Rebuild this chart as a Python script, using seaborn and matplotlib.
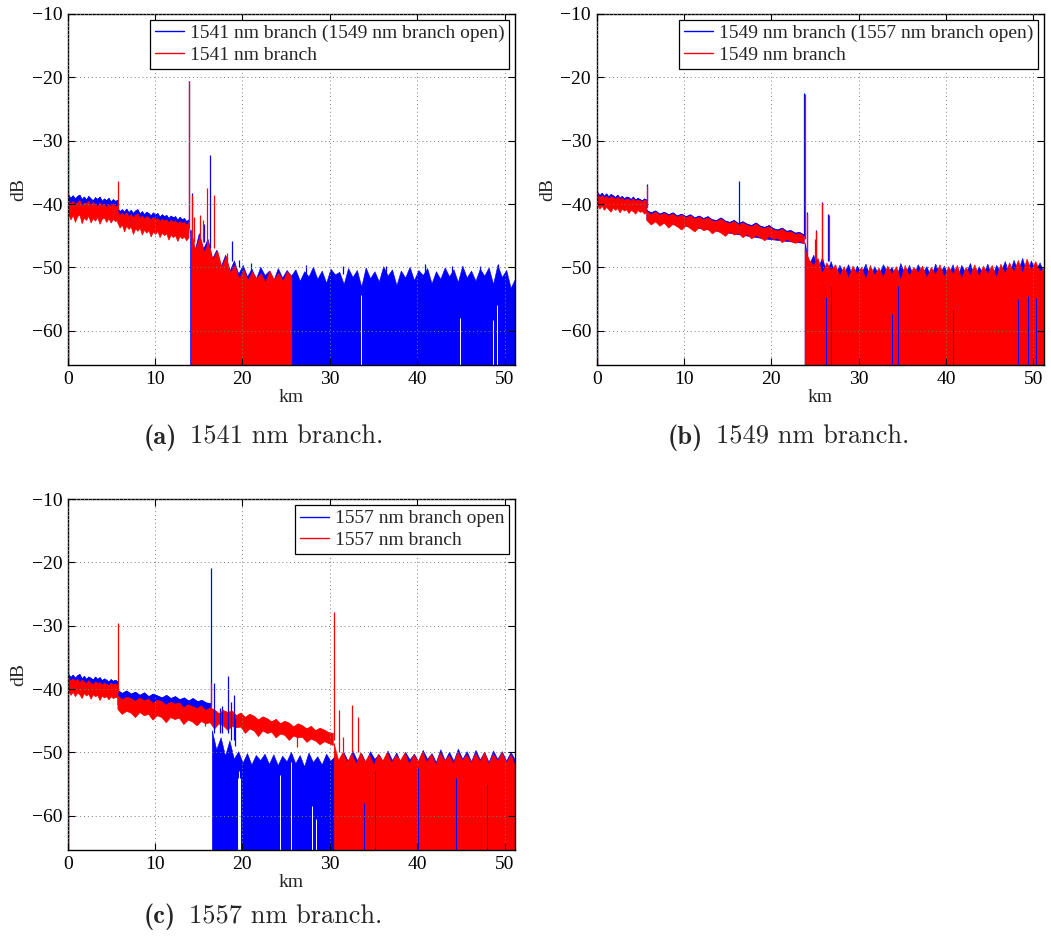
import numpy as np
import matplotlib
matplotlib.use("Agg")
import matplotlib.pyplot as plt
from matplotlib.lines import Line2D
import seaborn as sns

BLUE = "#0000ff"
RED = "#ff0000"
FLOOR = -70.0  # noise-floor bars run below the bottom of the axes

# ---------------- (a) 1541 nm branch ----------------
A_LABELS = ["1541 nm branch (1549 nm branch open)", "1541 nm branch"]

A_BLUE_SEG_KM = [(0.12, 5.75), (5.75, 13.88)]
A_BLUE_TOP = [
    [-38.6, -39.1, -38.7, -39.2, -38.8, -38.6, -39.3, -38.9, -39.4, -38.8, -39.2, -39.5,
     -39.0, -39.3, -38.9, -39.6, -39.2, -39.5, -39.1, -39.7, -39.3, -39.6, -39.4],
    [-40.7, -41.2, -40.9, -41.3, -40.8, -41.4, -41.0, -41.5, -41.1, -40.9, -41.6, -41.2,
     -41.7, -41.3, -41.5, -41.9, -41.4, -41.8, -41.5, -42.1, -41.7, -42.0, -41.8, -42.3,
     -41.9, -42.2, -42.0, -42.6, -42.1, -42.5, -42.3, -42.8, -42.5],
]
A_BLUE_BOT = [
    [-41.0, -41.3, -41.5, -41.8],
    [-43.0, -43.4, -43.8, -44.2, -44.5],
]
A_BLUE_FLOOR_KM = (14.0, 51.2)
A_BLUE_FLOOR_TOP = [
    -44.0, -47.5, -44.6, -47.0, -45.5, -48.6, -47.2, -49.8, -48.0, -50.5, -48.9, -51.0,
    -49.6, -51.4, -50.2, -51.8, -49.9, -51.2, -50.5, -52.0, -50.1, -51.6, -50.4, -51.3,
    -50.3, -52.1, -50.6, -51.4, -49.9, -51.8, -50.5, -52.4, -50.2, -51.1, -50.7, -52.6,
    -50.1, -51.5, -50.4, -53.0, -50.0, -51.7, -50.6, -52.2, -49.8, -51.3, -50.3, -52.8,
    -50.5, -51.6, -49.9, -52.0, -50.4, -51.2, -50.1, -52.5, -50.6, -51.8, -50.0, -51.4,
    -50.3, -52.3, -49.7, -51.6, -50.5, -52.1, -50.2, -51.3, -50.0, -52.6, -49.6, -51.5,
    -50.4, -53.2, -51.8,
]
A_BLUE_SPIKE_KM = [0.0, 13.92, 14.27, 15.65, 16.3, 18.8, 19.6, 21.0,
                   27.3, 31.5, 36.4, 40.9, 44.0, 47.2, 49.3]
A_BLUE_SPIKE_BASE = [-70.0, -43.0, -45.0, -46.0, -47.0, -49.0, -50.0, -50.5,
                     -51.0, -51.0, -51.0, -51.0, -51.0, -51.0, -51.0]
A_BLUE_SPIKE_PEAK = [-50.0, -20.6, -38.3, -43.2, -32.3, -45.9, -48.8, -49.3,
                     -49.6, -49.7, -49.8, -49.5, -49.8, -49.7, -49.4]
A_BLUE_GAP_KM = [33.6, 44.9, 48.7, 49.1]
A_BLUE_GAP_TOP = [-54.4, -58.0, -58.3, -56.0]

A_RED_SEG_KM = [(0.12, 5.75), (5.75, 13.88)]
A_RED_TOP = [
    [-39.5, -40.1, -39.6, -40.2, -39.8, -39.5, -40.3, -39.9, -40.0, -39.6, -40.4, -39.8,
     -40.1, -40.5, -39.9, -40.3, -40.0, -40.6, -40.1, -40.4, -40.0, -40.5, -40.3],
    [-41.3, -41.8, -41.5, -41.9, -41.4, -42.1, -41.7, -42.2, -41.8, -41.6, -42.3, -41.9,
     -42.4, -42.0, -42.2, -42.6, -42.1, -42.5, -42.3, -42.8, -42.4, -42.7, -42.5, -43.0,
     -42.6, -42.9, -42.7, -43.2, -42.8, -43.1, -42.9, -43.3, -43.0],
]
A_RED_BOT = [
    [-41.6, -42.5, -41.8, -42.9, -42.0, -41.7, -43.1, -42.2, -42.6, -41.9, -43.0, -42.3,
     -42.7, -42.1, -43.2, -42.4, -42.2, -42.9, -42.3, -43.0, -42.4, -42.8, -42.5],
    [-43.0, -43.8, -43.3, -44.4, -43.5, -44.0, -43.6, -44.8, -43.9, -44.3, -43.8, -44.9,
     -44.1, -44.6, -44.2, -45.2, -44.4, -44.8, -44.3, -45.3, -44.6, -45.0, -44.7, -45.7,
     -44.9, -45.3, -45.0, -45.9, -45.1, -45.5, -45.2, -45.8, -45.3],
]
A_RED_FLOOR_KM = (14.1, 25.6)
A_RED_FLOOR_TOP = [
    -44.0, -47.2, -45.0, -47.5, -46.0, -48.8, -47.3, -49.9, -48.2, -50.8, -49.6, -51.8,
    -50.3, -52.0, -50.6, -51.7, -50.9, -52.3, -50.5, -51.9, -50.8, -52.1, -50.6, -51.4,
]
A_RED_SPIKE_KM = [0.0, 0.06, 5.75, 13.9, 14.25, 14.5, 15.2, 15.5, 16.0, 16.7, 18.2]
A_RED_SPIKE_BASE = [-70.0, -42.0, -41.0, -44.0, -45.0, -46.0, -46.0, -46.0, -47.0, -47.0, -49.0]
A_RED_SPIKE_PEAK = [-27.5, -31.0, -36.4, -20.5, -38.5, -42.0, -41.7, -42.5, -37.5, -38.6, -47.8]

# ---------------- (b) 1549 nm branch ----------------
B_LABELS = ["1549 nm branch (1557 nm branch open)", "1549 nm branch"]

B_BLUE_SEG_KM = [(0.12, 5.75), (5.75, 23.75)]
B_BLUE_TOP = [
    [-38.2, -38.7, -38.3, -38.8, -38.4, -38.9, -38.5, -38.7, -39.0, -38.6, -39.1, -38.8,
     -39.2, -38.9, -39.0, -39.3, -38.9, -39.4, -39.1, -39.3, -39.5, -39.2, -39.4],
    [-41.0, -41.4, -41.1, -41.6, -41.3, -41.7, -41.4, -41.9, -41.6, -42.0, -41.7, -42.2,
     -41.9, -42.3, -42.0, -42.5, -42.6, -42.2, -42.7, -42.9, -42.6, -43.1, -42.8, -43.2,
     -43.4, -43.0, -43.5, -43.7, -43.4, -43.9, -44.1, -43.8, -44.3, -44.2, -44.6, -44.5,
     -44.9],
]
B_BLUE_BOT = [
    [-40.2, -40.5, -40.8, -41.0],
    [-42.5, -43.5, -44.5, -45.5, -46.2],
]
B_BLUE_FLOOR_KM = (23.8, 51.2)
B_BLUE_FLOOR_TOP = [
    -46.0, -49.5, -48.0, -50.2, -48.4, -50.8, -49.0, -51.2, -49.6, -51.0, -49.5, -51.5,
    -49.7, -50.9, -49.4, -51.6, -49.8, -51.2, -49.5, -50.8, -49.9, -51.7, -49.3, -51.1,
    -49.6, -51.4, -49.5, -50.9, -49.8, -51.6, -49.4, -51.0, -49.7, -51.3, -49.5, -51.8,
    -49.6, -50.9, -49.3, -51.5, -49.8, -51.1, -49.4, -51.6, -49.6, -50.8, -49.0, -51.2,
    -48.8, -50.6, -48.5, -50.9, -48.9, -50.5, -49.2, -51.0,
]
B_BLUE_SPIKE_KM = [0.0, 5.75, 16.25, 23.78, 24.05, 25.15, 25.8, 26.5]
B_BLUE_SPIKE_BASE = [-70.0, -40.5, -43.5, -45.0, -48.0, -49.0, -49.0, -49.0]
B_BLUE_SPIKE_PEAK = [-45.5, -36.8, -36.3, -22.5, -41.3, -44.1, -39.7, -41.5]

B_RED_SEG_KM = [(0.12, 5.75), (5.75, 23.75)]
B_RED_TOP = [
    [-38.6, -39.0, -38.7, -39.1, -38.8, -39.2, -38.9, -39.0, -39.3, -38.9, -39.4, -39.1,
     -39.5, -39.2, -39.3, -39.6, -39.2, -39.6, -39.4, -39.5, -39.7, -39.4, -39.6],
    [-41.2, -41.7, -41.3, -41.8, -41.5, -41.9, -41.6, -42.1, -41.8, -42.2, -41.9, -42.4,
     -42.1, -42.5, -42.2, -42.7, -42.8, -42.4, -42.9, -43.1, -42.8, -43.3, -43.0, -43.4,
     -43.6, -43.2, -43.7, -43.9, -43.6, -44.1, -44.3, -44.0, -44.5, -44.4, -44.8, -44.7,
     -45.1],
]
B_RED_BOT = [
    [-40.2, -40.8, -40.3, -41.0, -40.5, -40.9, -41.3, -40.6, -41.0, -40.7, -41.4, -40.8,
     -41.1, -40.9, -41.5, -41.0, -41.2, -41.6, -41.0, -41.3, -41.2, -41.6, -41.3],
    [-42.6, -43.3, -42.8, -43.5, -43.0, -43.8, -43.2, -43.6, -44.1, -43.4, -43.9, -44.4,
     -43.7, -44.2, -44.0, -44.7, -44.2, -44.6, -45.1, -44.4, -44.9, -44.6, -45.3, -44.8,
     -45.5, -45.0, -45.3, -45.8, -45.1, -45.6, -45.4, -46.1, -45.6, -45.9, -46.2, -45.9,
     -46.3],
]
B_RED_FLOOR_KM = (23.8, 51.2)
B_RED_FLOOR_TOP = [
    -47.0, -48.8, -49.6, -48.5, -50.9, -49.2, -50.4, -49.5, -51.3, -49.8, -51.6, -49.7,
    -51.0, -49.9, -51.8, -49.6, -51.2, -50.0, -51.5, -49.7, -51.0, -49.8, -51.9, -49.6,
    -51.3, -49.9, -50.8, -49.7, -51.6, -49.9, -51.1, -49.5, -51.4, -49.8, -51.0, -49.6,
    -51.7, -49.9, -51.2, -49.5, -51.3, -49.7, -51.0, -49.6, -51.5, -49.4, -50.9, -49.2,
    -50.7, -48.8, -50.9, -48.6, -50.4, -49.0, -50.6, -50.0,
]
B_RED_SPIKE_KM = [0.0, 5.75, 23.8, 24.1, 25.0, 25.15, 25.85, 26.55]
B_RED_SPIKE_BASE = [-70.0, -40.5, -45.5, -48.0, -49.0, -49.0, -49.0, -49.0]
B_RED_SPIKE_PEAK = [-30.2, -37.1, -22.6, -41.5, -45.5, -44.3, -39.8, -41.8]
B_RED_GAP_KM = [26.3, 26.8, 33.75, 34.5, 40.8, 48.2, 49.35, 50.3]
B_RED_GAP_TOP = [-54.7, -53.1, -57.3, -53.0, -56.8, -55.0, -54.5, -54.8]

# ---------------- (c) 1557 nm branch ----------------
C_LABELS = ["1557 nm branch open", "1557 nm branch"]

C_BLUE_SEG_KM = [(0.12, 5.75), (5.75, 16.4)]
C_BLUE_TOP = [
    [-37.7, -38.2, -37.8, -38.3, -37.9, -37.7, -38.4, -38.0, -38.5, -38.1, -38.3, -38.6,
     -38.1, -38.5, -38.2, -38.7, -38.4, -38.6, -38.9, -38.5, -38.8, -38.6, -38.9],
    [-40.2, -40.7, -40.3, -40.8, -40.5, -41.0, -40.6, -41.2, -40.8, -41.1, -41.4, -41.0,
     -41.5, -41.2, -41.7, -41.4, -41.9, -41.5, -42.0, -41.8, -42.2, -42.3],
]
C_BLUE_BOT = [
    [-40.0, -40.3, -40.6, -40.8],
    [-42.5, -43.5, -44.5],
]
C_BLUE_FLOOR_KM = (16.5, 51.2)
C_BLUE_FLOOR_TOP = [
    -46.5, -49.5, -47.6, -50.5, -48.1, -51.0, -49.8, -51.6, -50.1, -51.9, -50.4, -51.2,
    -50.2, -51.8, -50.3, -52.0, -50.5, -51.4, -49.9, -51.7, -50.4, -52.2, -50.0, -51.5,
    -50.6, -51.9, -50.2, -51.3, -50.5, -51.6, -50.0, -51.4, -49.7, -51.2, -50.1, -51.6,
    -49.8, -51.0, -50.3, -51.5, -49.7, -51.2, -50.0, -51.7, -49.9, -51.1, -50.2, -51.4,
    -49.6, -51.0, -50.1, -51.5, -49.5, -51.2, -49.9, -51.3, -49.4, -51.0, -49.8, -51.4,
    -49.6, -51.1, -49.9, -51.5, -49.7, -51.0, -49.8, -51.3, -49.9, -51.2,
]
C_BLUE_SPIKE_KM = [0.0, 16.38, 16.7, 17.4, 17.7, 18.4, 18.7, 19.0, 19.2]
C_BLUE_SPIKE_BASE = [-70.0, -42.5, -47.0, -47.0, -47.0, -47.0, -48.0, -48.0, -49.0]
C_BLUE_SPIKE_PEAK = [-30.0, -20.9, -39.0, -43.0, -42.7, -38.0, -42.0, -40.9, -44.5]
C_BLUE_GAP_KM = [19.5, 19.6, 19.7, 24.3, 25.6, 28.0, 28.4]
C_BLUE_GAP_TOP = [-54.0, -53.0, -54.0, -53.5, -51.5, -58.5, -60.5]

C_RED_SEG_KM = [(0.12, 5.75), (5.75, 30.4)]
C_RED_TOP = [
    [-38.3, -38.8, -38.4, -38.9, -38.5, -39.1, -38.6, -38.9, -39.2, -38.7, -39.1, -39.3,
     -38.9, -39.2, -39.0, -39.4, -39.1, -39.3, -39.5, -39.1, -39.4, -39.2, -39.5],
    [-41.1, -41.7, -41.3, -41.5, -42.0, -41.4, -41.9, -41.6, -42.3, -41.8, -42.0, -42.6,
     -42.1, -42.4, -42.2, -43.0, -42.5, -42.8, -43.1, -42.7, -43.4, -43.0, -43.3, -43.9,
     -43.4, -43.7, -43.5, -44.2, -43.8, -44.5, -44.0, -44.3, -44.9, -44.4, -44.7, -45.2,
     -44.8, -45.5, -45.1, -45.4, -46.0, -45.5, -45.8, -46.3, -45.9, -46.6, -46.2, -46.5,
     -46.9, -47.0],
]
C_RED_BOT = [
    [-40.3, -41.0, -40.5, -41.2, -40.6, -40.9, -41.5, -40.7, -41.1, -40.8, -41.6, -40.9,
     -41.2, -41.0, -41.8, -41.1, -41.4, -41.2, -41.7, -41.2, -41.5, -41.3, -41.4],
    [-43.2, -44.0, -43.5, -43.8, -44.5, -43.7, -44.2, -44.0, -44.9, -44.2, -44.5, -45.3,
     -44.5, -44.8, -44.6, -45.6, -44.9, -45.2, -45.8, -45.1, -45.5, -45.3, -46.3, -45.5,
     -45.8, -46.5, -45.9, -46.1, -46.0, -47.0, -46.3, -46.6, -47.5, -46.6, -47.0, -46.8,
     -47.7, -47.1, -47.3, -48.1, -47.4, -47.7, -47.6, -48.4, -47.9, -48.2, -48.8, -48.3,
     -48.6, -48.9],
]
C_RED_FLOOR_KM = (30.45, 51.2)
C_RED_FLOOR_TOP = [
    -48.5, -51.2, -49.9, -51.5, -50.1, -51.8, -50.0, -51.4, -50.3, -51.9, -50.2, -51.3,
    -49.9, -51.6, -50.4, -51.2, -50.0, -51.8, -50.3, -51.4, -49.8, -51.5, -50.2, -51.9,
    -50.0, -51.3, -50.4, -51.7, -49.9, -51.2, -50.3, -51.6, -50.1, -51.4, -49.9, -51.8,
    -50.2, -51.3, -50.0, -51.6, -50.3, -52.0,
]
C_RED_SPIKE_KM = [0.02, 5.75, 15.7, 16.4, 26.3, 30.45, 31.0, 31.5, 32.5, 33.2]
C_RED_SPIKE_BASE = [-70.0, -40.5, -44.0, -44.0, -47.0, -48.0, -50.0, -50.0, -50.0, -50.0]
C_RED_SPIKE_PEAK = [-32.8, -29.6, -45.9, -39.1, -49.1, -27.8, -43.3, -47.5, -42.5, -44.4]
C_RED_GAP_KM = [33.9, 35.2, 40.05, 44.5, 48.0]
C_RED_GAP_TOP = [-58.0, -53.0, -52.5, -54.0, -55.0]


def make_trace(color, seg_km, top, bot, floor_km, floor_top,
               spike_km, spike_base, spike_peak,
               gap_km=(), gap_top=(), gap_color="white"):
    return dict(color=color, seg_km=seg_km, top=top, bot=bot,
                floor_km=floor_km, floor_top=floor_top,
                spike_km=spike_km, spike_base=spike_base, spike_peak=spike_peak,
                gap_km=list(gap_km), gap_top=list(gap_top), gap_color=gap_color)


def draw_trace(ax, tr):
    c = tr["color"]
    # backscatter slope: polygon along the upper edge and back along the lower edge
    for (k0, k1), top, bot in zip(tr["seg_km"], tr["top"], tr["bot"]):
        kt = np.linspace(k0, k1, len(top))
        kb = np.linspace(k0, k1, len(bot))
        ax.fill(np.r_[kt, kb[::-1]], np.r_[top, bot[::-1]], color=c, lw=0.5)
        sns.lineplot(x=kt, y=top, ax=ax, color=c, lw=0.5, estimator=None, sort=False)
    # noise floor after the fibre end
    k0, k1 = tr["floor_km"]
    kf = np.linspace(k0, k1, len(tr["floor_top"]))
    ax.fill_between(kf, FLOOR, tr["floor_top"], color=c, lw=0.4)
    # reflections / isolated samples
    ax.vlines(tr["spike_km"], tr["spike_base"], tr["spike_peak"], color=c, lw=0.9)
    if tr["gap_km"]:
        ax.vlines(tr["gap_km"], FLOOR, tr["gap_top"], color=tr["gap_color"], lw=0.7)


sns.set_style("ticks")
plt.rcParams["font.family"] = ["Liberation Serif", "DejaVu Serif"]
plt.rcParams["axes.unicode_minus"] = True
FS = 14

panels = [
    dict(pos=[0.0644, 0.6109, 0.4256, 0.3742], labels=A_LABELS,
         traces=[make_trace(BLUE, A_BLUE_SEG_KM, A_BLUE_TOP, A_BLUE_BOT, A_BLUE_FLOOR_KM, A_BLUE_FLOOR_TOP,
                            A_BLUE_SPIKE_KM, A_BLUE_SPIKE_BASE, A_BLUE_SPIKE_PEAK, A_BLUE_GAP_KM, A_BLUE_GAP_TOP),
                 make_trace(RED, A_RED_SEG_KM, A_RED_TOP, A_RED_BOT, A_RED_FLOOR_KM, A_RED_FLOOR_TOP,
                            A_RED_SPIKE_KM, A_RED_SPIKE_BASE, A_RED_SPIKE_PEAK)],
         cap_bold="(a)", cap="1541 nm branch.", cap_x=(177, 190), cap_y=444),
    dict(pos=[0.5677, 0.6109, 0.4256, 0.3742], labels=B_LABELS,
         traces=[make_trace(BLUE, B_BLUE_SEG_KM, B_BLUE_TOP, B_BLUE_BOT, B_BLUE_FLOOR_KM, B_BLUE_FLOOR_TOP,
                            B_BLUE_SPIKE_KM, B_BLUE_SPIKE_BASE, B_BLUE_SPIKE_PEAK),
                 make_trace(RED, B_RED_SEG_KM, B_RED_TOP, B_RED_BOT, B_RED_FLOOR_KM, B_RED_FLOOR_TOP,
                            B_RED_SPIKE_KM, B_RED_SPIKE_BASE, B_RED_SPIKE_PEAK, B_RED_GAP_KM, B_RED_GAP_TOP,
                            gap_color=BLUE)],
         cap_bold="(b)", cap="1549 nm branch.", cap_x=(703, 716), cap_y=444),
    dict(pos=[0.0644, 0.0938, 0.4256, 0.3742], labels=C_LABELS,
         traces=[make_trace(BLUE, C_BLUE_SEG_KM, C_BLUE_TOP, C_BLUE_BOT, C_BLUE_FLOOR_KM, C_BLUE_FLOOR_TOP,
                            C_BLUE_SPIKE_KM, C_BLUE_SPIKE_BASE, C_BLUE_SPIKE_PEAK, C_BLUE_GAP_KM, C_BLUE_GAP_TOP),
                 make_trace(RED, C_RED_SEG_KM, C_RED_TOP, C_RED_BOT, C_RED_FLOOR_KM, C_RED_FLOOR_TOP,
                            C_RED_SPIKE_KM, C_RED_SPIKE_BASE, C_RED_SPIKE_PEAK, C_RED_GAP_KM, C_RED_GAP_TOP,
                            gap_color=BLUE)],
         cap_bold="(c)", cap="1557 nm branch.", cap_x=(176, 189), cap_y=923),
]

W, H = 1051, 938
fig = plt.figure(figsize=(W / 100, H / 100), dpi=100)

for p in panels:
    ax = fig.add_axes(p["pos"])
    for tr in p["traces"]:
        draw_trace(ax, tr)
    ax.set_xlim(0, 51.2)
    ax.set_ylim(-65.4, -10)
    ax.set_xticks([0, 10, 20, 30, 40, 50])
    ax.set_yticks([-60, -50, -40, -30, -20, -10])
    ax.grid(True, color="#7f7f7f", linestyle=(0, (1, 3)), lw=0.7)
    ax.set_axisbelow(False)
    for s in ax.spines.values():
        s.set_linewidth(1.0)
        s.set_color("black")
    ax.tick_params(direction="in", length=5, width=0.8, top=True, right=True,
                   labelsize=FS, pad=4, colors="black")
    ax.set_xlabel("km", fontsize=FS, labelpad=1)
    ax.set_ylabel("dB", fontsize=FS, labelpad=3)
    handles = [Line2D([], [], color=BLUE, lw=1.0), Line2D([], [], color=RED, lw=1.0)]
    leg = ax.legend(handles, p["labels"], loc="upper right", fontsize=FS, frameon=True,
                    fancybox=False, framealpha=1, edgecolor="black", borderaxespad=0.3,
                    handlelength=1.5, handletextpad=0.3, labelspacing=0.2, borderpad=0.25)
    leg.get_frame().set_linewidth(0.9)
    xb, xr = p["cap_x"]
    y = 1 - p["cap_y"] / H
    fig.text(xb / W, y, p["cap_bold"], fontfamily="cmb10", fontsize=19, ha="right", va="baseline")
    fig.text(xr / W, y, p["cap"], fontfamily="cmr10", fontsize=19, ha="left", va="baseline")

fig.savefig("out.png", dpi=100)
